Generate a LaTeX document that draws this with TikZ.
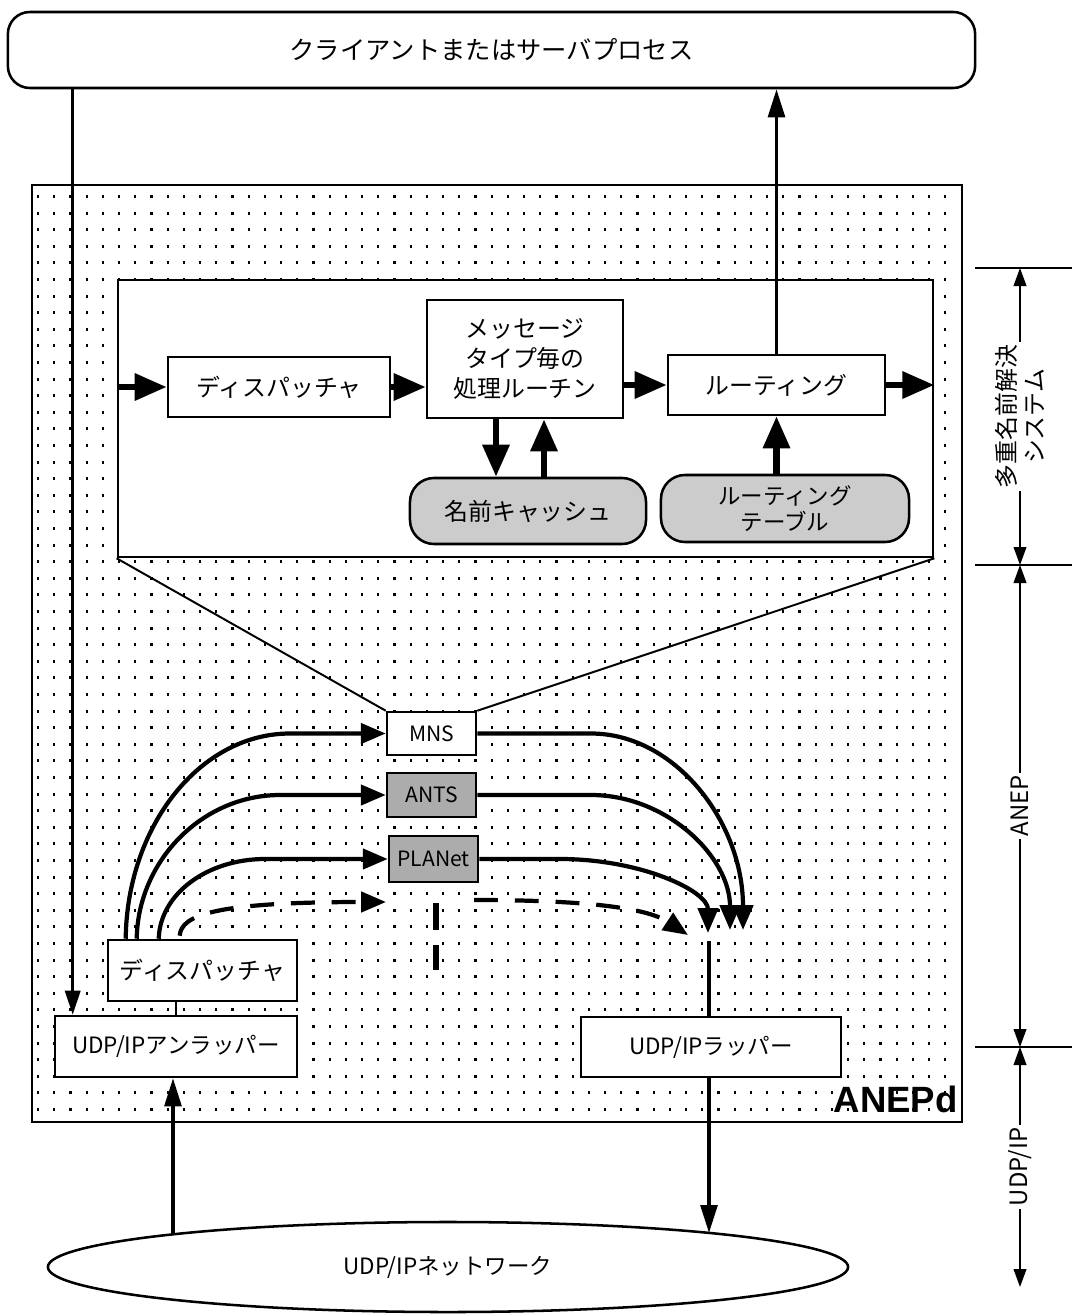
\documentclass[tikz,border=0pt]{standalone}
\usepackage{fontspec}
\setmainfont{Noto Sans CJK JP}
\newfontfamily\titlefont{Liberation Sans}
\usetikzlibrary{arrows.meta,shapes.geometric,calc}

\begin{document}
\begin{tikzpicture}[x=0.025cm, y=-0.025cm,
    jfont/.style={font=\fontsize{17pt}{21pt}\selectfont},
    box/.style={draw, line width=1.8pt, fill=white, inner sep=0pt, align=center, jfont},
    pill/.style={box, fill=gray!40, rounded corners=0.6cm},
    proto/.style={box, minimum width=2.225cm, font=\fontsize{15pt}{18pt}\selectfont},
    flow/.style={line width=4.5pt, -{Triangle[length=0.8cm,width=0.65cm]}},
    link/.style={line width=3pt, -{Triangle[length=0.62cm,width=0.5cm]}},
    dashlink/.style={link, dash pattern=on 17pt off 12pt},
    wire/.style={line width=2pt, -{Triangle[length=0.6cm,width=0.38cm]}},
    netflow/.style={line width=2.4pt, -{Triangle[length=0.7cm,width=0.42cm]}},
    span/.style={line width=1pt, {Triangle[length=0.45cm,width=0.32cm]}-{Triangle[length=0.45cm,width=0.32cm]}},
    spanlabel/.style={midway, fill=white, rotate=90, align=center, inner sep=2pt, font=\fontsize{17pt}{20pt}\selectfont}]
  \useasboundingbox (0,0) rectangle (1072,1314);

  % dotted ground of the daemon
  \foreach \i in {0,...,56}
    \foreach \j in {0,...,55}
      \fill (37+16.2*\i,195+16.6*\j) rectangle ++(2.2,3);
  \node[draw, line width=1.9pt, minimum width=23.25cm, minimum height=23.425cm] (anepd) at (497,653.5) {};
  \node[anchor=base east, inner sep=0pt, font=\titlefont\bfseries\fontsize{26pt}{30pt}\selectfont] (anepdlabel) at (958,1112) {ANEPd};

  \node[box, rounded corners=0.55cm, minimum width=24.175cm, minimum height=1.9cm, font=\fontsize{18pt}{22pt}\selectfont] (client) at (491.5,50) {クライアントまたはサーバプロセス};

  % multiple name service, enlarged
  \node[draw, line width=1.8pt, fill=white, minimum width=20.375cm, minimum height=6.925cm] (mnsdetail) at (525.5,418.5) {};
  \node[box, minimum width=5.55cm, minimum height=1.5cm] (disp1) at (279,387) {ディスパッチャ};
  \node[box, minimum width=4.9cm, minimum height=2.95cm] (msg) at (525,359) {メッセージ\\タイプ毎の\\処理ルーチン};
  \node[box, minimum width=5.425cm, minimum height=1.5cm] (route) at (776.5,385) {ルーティング};
  \node[pill, minimum width=5.9cm, minimum height=1.65cm] (cache) at (528,511) {名前キャッシュ};
  \node[pill, minimum width=6.2cm, minimum height=1.675cm, font=\fontsize{16pt}{19pt}\selectfont] (rtable) at (785,508.5) {ルーティング\\テーブル};

  \draw[flow] (mnsdetail.west |- disp1.west) -- (disp1.west);
  \draw[flow] (disp1.east) -- (disp1.east -| msg.west);
  \draw[flow] (msg.east |- route.west) -- (route.west);
  \draw[flow] (route.east) -- (route.east -| mnsdetail.east);
  \coordinate (cachein) at ([xshift=-0.725cm]msg.south);
  \coordinate (cacheout) at ([xshift=0.475cm]msg.south);
  \draw[flow] (cachein) -- (cachein |- cache.north);
  \draw[flow] (cacheout |- cache.north) -- (cacheout);
  \draw[flow] (route.south |- rtable.north) -- (route.south);
  \draw[netflow] (route.north) -- (route.north |- client.south);

  % protocols
  \node[proto, minimum height=1.075cm] (mns) at (431.5,733.5) {MNS};
  \node[proto, fill=gray!65, minimum height=1.1cm] (ants) at (431.5,795) {ANTS};
  \node[proto, fill=gray!65, minimum height=1.15cm] (planet) at (433.5,859) {PLANet};
  \draw[line width=1.4pt] (mnsdetail.south west) -- (mns.north west);
  \draw[line width=1.4pt] (mnsdetail.south east) -- (mns.north east);

  \node[box, minimum width=4.725cm, minimum height=1.525cm] (disp2) at (202.5,970.5) {ディスパッチャ};
  \node[box, minimum width=6.05cm, minimum height=1.525cm, font=\fontsize{16pt}{19pt}\selectfont] (unwrap) at (176,1046.5) {UDP/IPアンラッパー};
  \node[box, minimum width=6.5cm, minimum height=1.5cm, font=\fontsize{16pt}{19pt}\selectfont] (wrap) at (711,1047) {UDP/IPラッパー};
  \node[draw, line width=1.8pt, ellipse, minimum width=20cm, minimum height=2.25cm, inner sep=0pt, font=\fontsize{16pt}{19pt}\selectfont] (net) at (448,1267) {UDP/IPネットワーク};

  \draw[line width=1.8pt] (unwrap.north) -- (unwrap.north |- disp2.south);
  \coordinate (clientout) at ($(unwrap.north west)+(19,0)$);
  \draw[wire] (client.south -| clientout) -- (clientout);
  \coordinate (netin) at (173,1234);
  \draw[netflow] (netin) -- (netin |- unwrap.south);
  \coordinate (netout) at (709,1233);
  \draw[netflow] (wrap.south -| netout) -- (netout);

  % dispatcher to protocols
  \draw[link] ($(disp2.north west)+(19,0)$) .. controls (127,826) and (200,733.5) .. (290,733.5) -- (mns.west);
  \draw[link] ($(disp2.north west)+(30,0)$) .. controls (138,861) and (202,795) .. (280,795) -- (ants.west);
  \draw[link] ($(disp2.north west)+(52,0)$) .. controls (160,894) and (207,859) .. (265,859) -- (planet.west);
  \draw[dashlink] ($(disp2.north west)+(73,-3)$) .. controls (181,915) and (215,902) .. (386,902);
  \coordinate (slot) at (436,903);
  \draw[line width=4.5pt, dash pattern=on 19pt off 11pt] (slot) -- ++(0,67);

  % protocols to wrapper
  \coordinate (tipM) at (743,930);
  \coordinate (tipA) at (730,930);
  \coordinate (tipP) at (708,933);
  \coordinate (merge) at (709,941);
  \draw[link] (mns.east) -- (591,733.5) .. controls (675,733.5) and (743,822) .. (tipM);
  \draw[link] (ants.east) -- (591,795) .. controls (667,795) and (730,857) .. (tipA);
  \draw[link] (planet.east) -- (560,859) .. controls (641,859) and (708,891) .. (tipP);
  \draw[dashlink] (474,900) .. controls (600,900) and (650,910) .. (688,935);
  \draw[line width=2.4pt] (wrap.north -| merge) -- (merge);

  % layers
  \foreach \y in {268,565,1047}
    \draw[line width=1pt] (975,\y) -- (1072,\y);
  \coordinate (lvA) at (1020,268);
  \coordinate (lvB) at (1020,565);
  \coordinate (lvC) at (1020,1047);
  \coordinate (lvD) at (1020,1287);
  \draw[span] (lvA) -- (lvB) node[spanlabel] (lblmns) {多重名前解決\\システム};
  \draw[span] (lvB) -- (lvC) node[spanlabel] (lblanep) {ANEP};
  \draw[span] (lvC) -- (lvD) node[spanlabel] (lbludp) {UDP/IP};
\end{tikzpicture}
\end{document}
